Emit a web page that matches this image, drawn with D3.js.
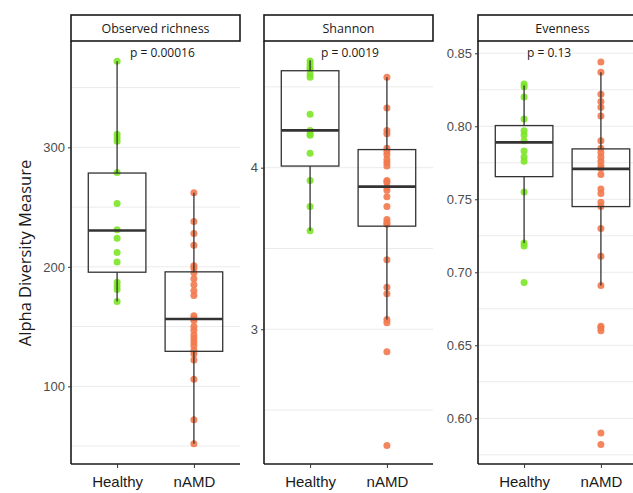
<!DOCTYPE html>
<html>
<head>
<meta charset="utf-8">
<script src="https://cdn.jsdelivr.net/npm/d3@7"></script>
<style>
  body { margin: 0; background: #fff; }
  svg { display: block; font-family: "Open Sans", "Liberation Sans", Arial, sans-serif; }
</style>
</head>
<body>
<svg id="chart"></svg>
<script>
let width = 633,
    height = 493,
    svg = d3.select("#chart")
        .attr("width", width)
        .attr("height", height)

let groups = ["Healthy", "nAMD"];
let colors = ["#7be526", "#f2794c"];

let panelNames = ["Observed richness", "Shannon", "Evenness"];
let pLabels = ["p = 0.00016", "p = 0.0019", "p = 0.13"];

// values
let richnessHealthy = [372, 311, 308, 305, 279, 253, 231, 224, 212, 204, 187, 184, 181, 171];
let richnessAMD = [262, 238, 228, 218, 201, 199, 195, 190, 185, 180, 176, 159, 157, 155, 150, 147, 143, 140, 137, 134, 130, 127, 122, 106, 72, 52];
let shannonHealthy = [4.66, 4.64, 4.62, 4.61, 4.58, 4.56, 4.33, 4.23, 4.21, 4.20, 4.09, 3.92, 3.76, 3.61];
let shannonAMD = [4.56, 4.37, 4.23, 4.21, 4.12, 4.10, 4.08, 4.05, 4.03, 4.01, 3.92, 3.91, 3.88, 3.86, 3.82, 3.76, 3.68, 3.66, 3.65, 3.43, 3.26, 3.22, 3.06, 3.04, 2.86, 2.28];
let evenHealthy = [0.829, 0.827, 0.820, 0.805, 0.797, 0.794, 0.790, 0.783, 0.779, 0.776, 0.755, 0.720, 0.718, 0.693];
let evenAMD = [0.844, 0.837, 0.822, 0.817, 0.813, 0.807, 0.790, 0.785, 0.782, 0.779, 0.776, 0.773, 0.771, 0.767, 0.757, 0.754, 0.748, 0.745, 0.730, 0.711, 0.691, 0.663, 0.662, 0.660, 0.590, 0.582];

// box stats [whiskerLow, q1, median, q3, whiskerHigh]
let richnessBoxes = [[171, 195.5, 230.4, 278.5, 372], [52, 129.3, 156.4, 195.8, 262]];
let shannonBoxes = [[3.61, 4.01, 4.231, 4.60, 4.665], [3.06, 3.638, 3.883, 4.112, 4.56]];
let evenBoxes = [[0.720, 0.7655, 0.789, 0.8005, 0.828], [0.691, 0.745, 0.7708, 0.7845, 0.837]];

// y domains and ticks
let yDomains = [[35, 389], [2.166, 4.784], [0.5687, 0.8584]];
let majorTicks = [[100, 200, 300], [3, 4], [0.60, 0.65, 0.70, 0.75, 0.80, 0.85]];
let minorTicks = [[50, 150, 250, 350], [2.5, 3.5, 4.5], [0.575, 0.625, 0.675, 0.725, 0.775, 0.825]];
let tickFormats = [d3.format("d"), d3.format("d"), d3.format(".2f")];

let panels = [
    {points: [richnessHealthy, richnessAMD], boxes: richnessBoxes},
    {points: [shannonHealthy, shannonAMD], boxes: shannonBoxes},
    {points: [evenHealthy, evenAMD], boxes: evenBoxes}
];

let panelLeft = [71, 264, 478],
    pLabelX = [59, 57, 49],
    panelW = 169,
    plotTop = 41,
    plotBottom = 464,
    stripTop = 15;

panels.forEach((p, i) => {
    let g = svg.append("g").attr("transform", "translate(" + panelLeft[i] + ",0)");

    let x = d3.scalePoint().domain(groups).range([0, panelW]).padding(0.6);
    let y = d3.scaleLinear().domain(yDomains[i]).range([plotBottom, plotTop]);
    let step = x.step();
    let boxW = step * 0.75;

    //////////////////////////////////////////// grid
    g.append("g").selectAll("line")
        .data(minorTicks[i].concat(majorTicks[i]))
        .enter().append("line")
        .attr("x1", 0).attr("x2", panelW)
        .attr("y1", d => y(d)).attr("y2", d => y(d))
        .attr("stroke", "#ebebeb")
        .attr("stroke-width", 1)

    //////////////////////////////////////////// points
    groups.forEach((grp, k) => {
        g.append("g").selectAll("circle")
            .data(p.points[k])
            .enter().append("circle")
            .attr("cx", x(grp))
            .attr("cy", d => y(d))
            .attr("r", 3.5)
            .attr("fill", colors[k])
            .attr("fill-opacity", 0.9)
    });

    //////////////////////////////////////////// boxes
    groups.forEach((grp, k) => {
        let b = p.boxes[k], cx = x(grp);
        let bg = g.append("g").attr("stroke", "#333").attr("fill", "none");
        bg.append("line").attr("x1", cx).attr("x2", cx)
            .attr("y1", y(b[0])).attr("y2", y(b[1])).attr("stroke-width", 1.3);
        bg.append("line").attr("x1", cx).attr("x2", cx)
            .attr("y1", y(b[3])).attr("y2", y(b[4])).attr("stroke-width", 1.3);
        bg.append("rect")
            .attr("x", cx - boxW / 2).attr("width", boxW)
            .attr("y", y(b[3])).attr("height", y(b[1]) - y(b[3]))
            .attr("stroke-width", 1.3);
        bg.append("line").attr("x1", cx - boxW / 2).attr("x2", cx + boxW / 2)
            .attr("y1", y(b[2])).attr("y2", y(b[2])).attr("stroke-width", 2.6);
    });

    //////////////////////////////////////////// p value
    g.append("text")
        .attr("x", pLabelX[i])
        .attr("y", 57)
        .attr("font-size", 12)
        .attr("fill", "#1a1a1a")
        .text(pLabels[i])

    //////////////////////////////////////////// axes
    let yAxis = d3.axisLeft(y).tickValues(majorTicks[i]).tickFormat(tickFormats[i]).tickSize(3).tickPadding(3);
    let ya = g.append("g").call(yAxis);
    ya.select(".domain").attr("d", "M0," + plotTop + "V" + plotBottom).attr("stroke", "#1a1a1a").attr("stroke-width", 1.6);
    ya.selectAll(".tick line").attr("stroke", "#333");
    ya.selectAll(".tick text").attr("fill", "#4d4d4d").attr("font-size", 13).attr("font-family", null);

    let xAxis = d3.axisBottom(x).tickSize(4).tickPadding(8);
    let xa = g.append("g").attr("transform", "translate(0," + plotBottom + ")").call(xAxis);
    xa.select(".domain").attr("d", "M0,0H" + panelW).attr("stroke", "#1a1a1a").attr("stroke-width", 1.6);
    xa.selectAll(".tick line").attr("stroke", "#333");
    xa.selectAll(".tick text").attr("fill", "#1a1a1a").attr("font-size", 15).attr("font-family", null);

    //////////////////////////////////////////// strip
    g.append("rect")
        .attr("x", 0).attr("y", stripTop)
        .attr("width", panelW).attr("height", plotTop - stripTop)
        .attr("fill", "#fff").attr("stroke", "#1a1a1a").attr("stroke-width", 1.6)
    g.append("text")
        .attr("x", panelW / 2).attr("y", (stripTop + plotTop) / 2 + 4.5)
        .attr("text-anchor", "middle")
        .attr("font-size", 12.5)
        .attr("fill", "#1a1a1a")
        .text(panelNames[i])
});

svg.append("text")
    .attr("transform", "translate(31,253) rotate(-90)")
    .attr("text-anchor", "middle")
    .attr("font-size", 16.5)
    .attr("fill", "#1a1a1a")
    .text("Alpha Diversity Measure")
</script>
</body>
</html>
